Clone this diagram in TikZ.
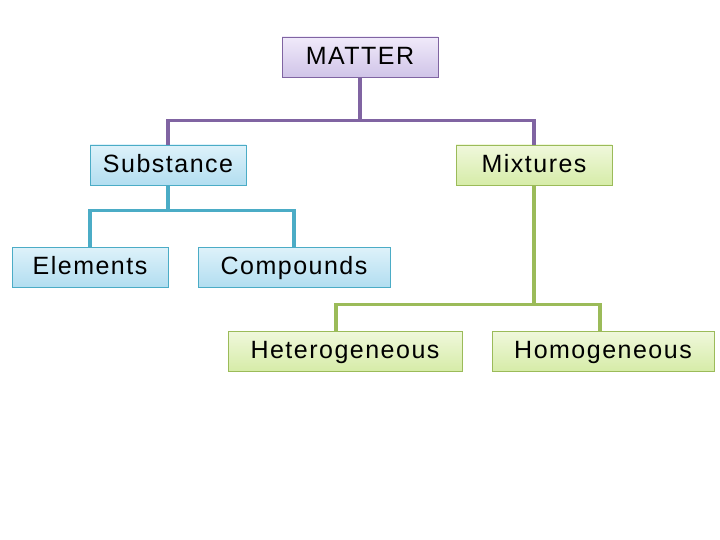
\documentclass[tikz,border=0pt]{standalone}
\usepackage{fontspec}
\setmainfont{Liberation Sans}[LetterSpace=6]
\usepackage{tikz}

\definecolor{mpurple}{RGB}{128,100,162}
\definecolor{mteal}{RGB}{75,172,198}
\definecolor{mgreen}{RGB}{155,187,89}

\begin{document}
\begin{tikzpicture}[x=1pt,y=-1pt]
\tikzstyle{every node}+=[inner sep=0pt,font=\fontsize{25}{29}\selectfont,text height=18.5pt,text depth=4pt]
\tikzstyle{purplebox}=[draw=mpurple,line width=0.8pt,top color={rgb,255:red,240;green,234;blue,250},bottom color={rgb,255:red,208;green,196;blue,232}]
\tikzstyle{bluebox}=[draw=mteal,line width=0.8pt,top color={rgb,255:red,222;green,242;blue,250},bottom color={rgb,255:red,178;green,222;blue,240}]
\tikzstyle{greenbox}=[draw=mgreen,line width=0.8pt,top color={rgb,255:red,240;green,248;blue,220},bottom color={rgb,255:red,214;green,236;blue,168}]
\useasboundingbox (0,0) rectangle (720,540);
% boxes
\node [purplebox,minimum width=156pt,minimum height=40pt] (matter) at (360,57) {MATTER};
\node [bluebox,minimum width=156pt,minimum height=40pt] (substance) at (168,165) {Substance};
\node [greenbox,minimum width=156pt,minimum height=40pt] (mixtures) at (534,165) {Mixtures};
\node [bluebox,minimum width=156pt,minimum height=40pt] (elements) at (90,267) {Elements};
\node [bluebox,minimum width=192pt,minimum height=40pt] (compounds) at (294,267) {Compounds};
\node [greenbox,minimum width=234pt,minimum height=40pt] (hetero) at (345,351) {Heterogeneous};
\node [greenbox,minimum width=222pt,minimum height=40pt] (homo) at (603,351) {Homogeneous};
% connectors
\draw [mpurple,line width=3.5pt] (matter.south) -- ++(0,43) -| (substance.north);
\draw [mpurple,line width=3.5pt] (matter.south) -- ++(0,43) -| (mixtures.north);
\draw [mteal,line width=3.5pt] (substance.south) -- ++(0,25) -| (elements.north);
\draw [mteal,line width=3.5pt] (substance.south) -- ++(0,25) -| (compounds.north);
\draw [mgreen,line width=3.5pt] (mixtures.south) -- ++(0,119) -| ([xshift=-9pt]hetero.north);
\draw [mgreen,line width=3.5pt] (mixtures.south) -- ++(0,119) -| ([xshift=-3pt]homo.north);
\end{tikzpicture}
\end{document}
